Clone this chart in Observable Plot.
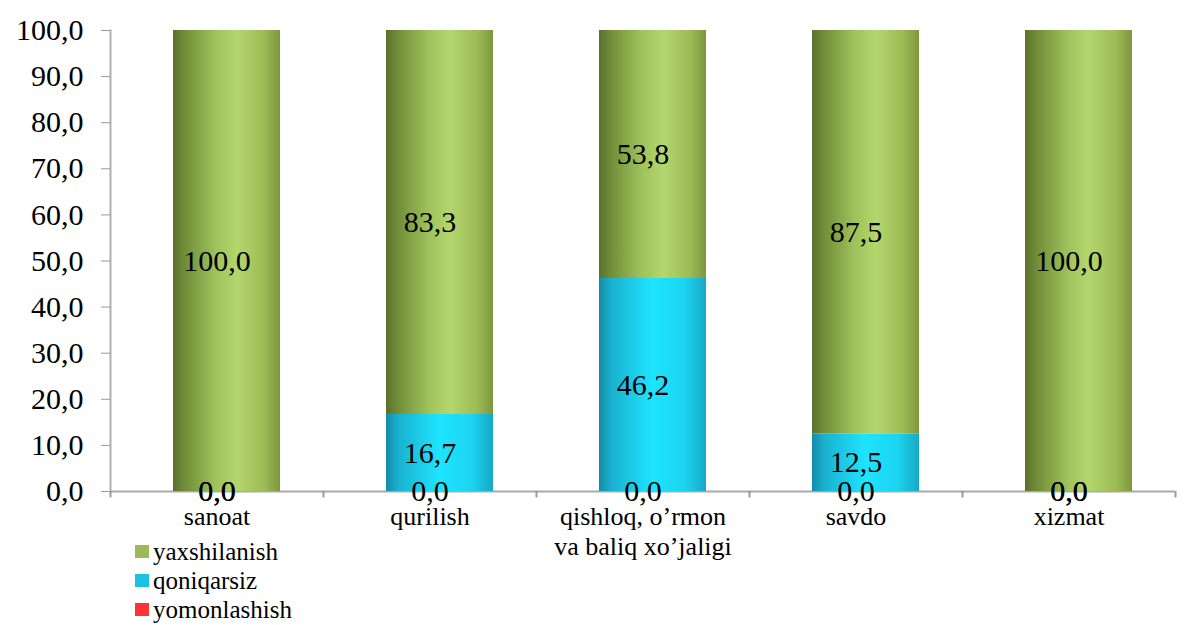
<!DOCTYPE html>
<html>
<head>
<meta charset="utf-8">
<script src="https://cdn.jsdelivr.net/npm/d3@7"></script>
<script src="https://cdn.jsdelivr.net/npm/@observablehq/plot@0.6"></script>
<style>
  body { margin: 0; background: #ffffff; font-family: "Liberation Serif", "Liberation Sans", sans-serif; }
  #chart svg { overflow: visible; display: block; }
  .legend { padding-left: 135px; font-size: 25px; line-height: 29px; color: #000; }
  .legend .item { display: flex; align-items: center; height: 29px; }
  .legend .sw { width: 14px; height: 13px; margin-right: 4px; flex: none; }
</style>
</head>
<body>
<div id="chart"></div>
<div class="legend" id="legend"></div>
<script>
// ---- data ----
const categories = ["sanoat", "qurilish", "qishloq, o’rmon\nva baliq xo’jaligi", "savdo", "xizmat"];
const seriesNames = ["yomonlashish", "qoniqarsiz", "yaxshilanish"];   // stacking order, bottom to top
const yomonlashish = [0.0, 0.0, 0.0, 0.0, 0.0];
const qoniqarsiz   = [0.0, 16.7, 46.2, 12.5, 0.0];
const yaxshilanish = [100.0, 83.3, 53.8, 87.5, 100.0];
const yTicks = [0, 10, 20, 30, 40, 50, 60, 70, 80, 90, 100];
const legendOrder = ["yaxshilanish", "qoniqarsiz", "yomonlashish"];
const legendColors = { yaxshilanish: "#9bbb59", qoniqarsiz: "#17c3e0", yomonlashish: "#ff3333" };

const valuesBySeries = { yomonlashish, qoniqarsiz, yaxshilanish };
const data = [];
seriesNames.forEach(s => categories.forEach((c, i) => data.push({ category: c, series: s, value: valuesBySeries[s][i] })));

const fmt = v => v.toFixed(1).replace(".", ",");
const FONT = "Liberation Serif, Liberation Sans, sans-serif";

const W = 1184, H = 537, mL = 110, mR = 9, mT = 30, mB = 46;
const step = (W - mL - mR) / categories.length;
const half = step / 2;

const plot = Plot.plot({
  width: W,
  height: H,
  marginLeft: mL,
  marginRight: mR,
  marginTop: mT,
  marginBottom: mB,
  style: { fontFamily: FONT, background: "#ffffff", color: "#000" },
  x: { type: "band", domain: categories, paddingInner: 0.5, paddingOuter: 0.25, label: null },
  y: { domain: [0, 100], label: null },
  color: { type: "ordinal", domain: seriesNames, range: ["url(#g-red)", "url(#g-cyan)", "url(#g-green)"] },
  marks: [
    Plot.ruleY([0], { stroke: "#a9a9a9", strokeWidth: 2 }),
    Plot.frame({ anchor: "left", stroke: "#b0b0b0", strokeWidth: 2 }),
    Plot.axisY({ ticks: yTicks, tickFormat: fmt, tickSize: 9, tickPadding: 18, fontSize: 30, stroke: "#9a9a9a" }),
    Plot.axisX({ tickSize: 0, tickPadding: 12, fontSize: 26, lineHeight: 1.15, tickFormat: d => d }),
    Plot.ruleX(categories, { x: d => d, dx: -half, y1: 0, y2: -1.4, stroke: "#9a9a9a", strokeWidth: 2 }),
    Plot.ruleX(categories.slice(-1), { x: d => d, dx: half, y1: 0, y2: -1.4, stroke: "#9a9a9a", strokeWidth: 2 }),
    Plot.barY(data, Plot.stackY({ x: "category", y: "value", z: "series", fill: "series", dx: 10 })),
    Plot.text(data, Plot.stackY({ x: "category", y: "value", z: "series", text: d => fmt(d.value), fontSize: 30, fill: "#000" }))
  ]
});

// gradients for the cylinder look
const defs = d3.select(plot).insert("defs", ":first-child");
function grad(id, stops) {
  const g = defs.append("linearGradient").attr("id", id).attr("x1", "0").attr("x2", "1").attr("y1", "0").attr("y2", "0");
  stops.forEach(([o, c]) => g.append("stop").attr("offset", o).attr("stop-color", c));
}
grad("g-green", [["0%", "#58712d"], ["10%", "#6f8b37"], ["40%", "#a0c25c"], ["60%", "#b4d66c"], ["85%", "#9dbb56"], ["100%", "#7d973e"]]);
grad("g-cyan", [["0%", "#148ca9"], ["12%", "#1ab2d0"], ["50%", "#1ee4ff"], ["80%", "#1cd4f0"], ["100%", "#16a8c4"]]);
grad("g-red", [["0%", "#c02020"], ["50%", "#ff3333"], ["100%", "#c02020"]]);

document.getElementById("chart").appendChild(plot);

const legend = document.getElementById("legend");
legendOrder.forEach(s => {
  const item = document.createElement("div");
  item.className = "item";
  const sw = document.createElement("span");
  sw.className = "sw";
  sw.style.background = legendColors[s];
  const t = document.createElement("span");
  t.textContent = s;
  item.appendChild(sw);
  item.appendChild(t);
  legend.appendChild(item);
});
</script>
</body>
</html>
